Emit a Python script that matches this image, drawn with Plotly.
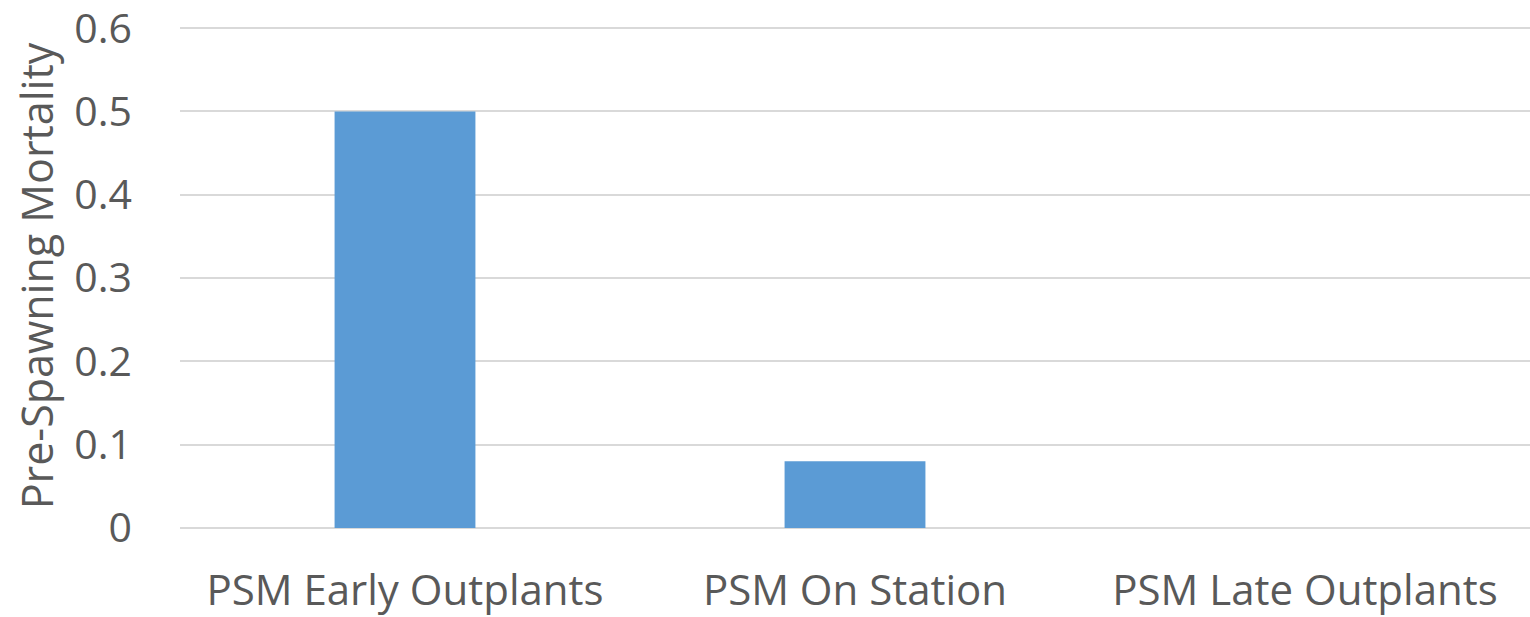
import plotly.graph_objects as go

categories = ["PSM Early Outplants", "PSM On Station", "PSM Late Outplants"]
values = [0.5, 0.08, 0.0]
y_ticks = [0, 0.1, 0.2, 0.3, 0.4, 0.5, 0.6]
y_tick_labels = ["0", "0.1", "0.2", "0.3", "0.4", "0.5", "0.6"]

font_family = "Open Sans, Liberation Sans, sans-serif"
text_color = "#595959"

fig = go.Figure(go.Bar(x=categories, y=values, marker_color="#5B9BD5", marker_line_width=0))

fig.update_layout(
    width=1530, height=617,
    margin=dict(l=180, r=0, t=24, b=89),
    paper_bgcolor="white", plot_bgcolor="white",
    bargap=0.687,
    showlegend=False,
    font=dict(family=font_family, color=text_color),
)
fig.update_xaxes(
    showgrid=False, showline=False, zeroline=False,
    tickfont=dict(size=42, color=text_color),
    ticks="", ticklabelstandoff=34,
)
fig.update_yaxes(
    range=[0, 0.605], tickvals=y_ticks, ticktext=y_tick_labels,
    showgrid=True, gridcolor="#D9D9D9", gridwidth=1.5,
    zeroline=True, zerolinecolor="#D9D9D9", zerolinewidth=1.5,
    showline=False, ticks="",
    tickfont=dict(size=41, color=text_color),
    ticklabelstandoff=47, ticklabeloverflow="allow",
    title=dict(text="Pre-Spawning Mortality", font=dict(size=43, color=text_color), standoff=7),
)

fig.write_html(
    "out.html",
    config={"displayModeBar": False},
    post_script="document.body.style.margin='0';document.body.style.overflow='hidden';",
)
